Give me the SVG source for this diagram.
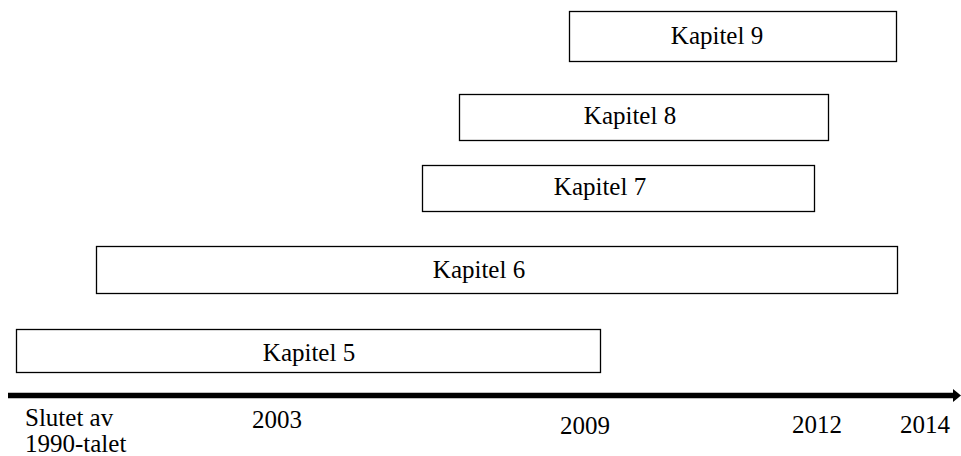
<svg xmlns="http://www.w3.org/2000/svg" width="961" height="456" viewBox="0 0 961 456">
<style>
.box{fill:#fff;stroke:#000;stroke-width:1.3}
text{font-family:"Liberation Serif","Times New Roman",serif;font-size:25px;fill:#000}
.c{text-anchor:middle}
</style>
<defs>
<marker id="ah" markerWidth="9" markerHeight="14" refX="0" refY="7" orient="auto" markerUnits="userSpaceOnUse">
<path d="M0,0.5 L8,7 L0,13.5 Z" fill="#000"/>
</marker>
</defs>
<rect width="961" height="456" fill="#fff"/>
<g id="kapitel9"><rect class="box" x="569.5" y="11.5" width="327" height="50"/><text class="c" x="717" y="44">Kapitel 9</text></g>
<g id="kapitel8"><rect class="box" x="459.5" y="94.5" width="369" height="46"/><text class="c" x="630" y="124">Kapitel 8</text></g>
<g id="kapitel7"><rect class="box" x="422.5" y="165.5" width="392" height="46"/><text class="c" x="600" y="195">Kapitel 7</text></g>
<g id="kapitel6"><rect class="box" x="96.5" y="246.5" width="801" height="47"/><text class="c" x="479" y="278">Kapitel 6</text></g>
<g id="kapitel5"><rect class="box" x="16.5" y="329.5" width="584" height="43"/><text class="c" x="309" y="361">Kapitel 5</text></g>
<g id="connectors">
<line x1="8" y1="395.5" x2="953" y2="395.5" stroke="#000" stroke-width="5.5" marker-end="url(#ah)"/>
</g>
<g id="labels">
<text x="25" y="426">Slutet av</text>
<text x="25" y="452">1990-talet</text>
<text x="252" y="428">2003</text>
<text x="560" y="434">2009</text>
<text x="792" y="433">2012</text>
<text x="900" y="433">2014</text>
</g>
</svg>
